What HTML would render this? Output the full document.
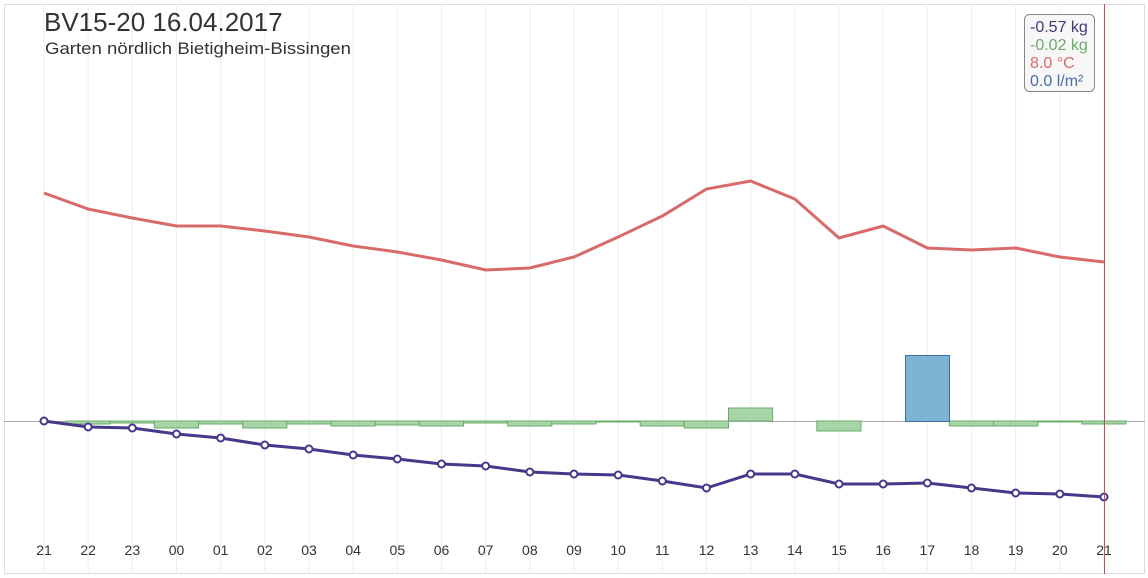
<!DOCTYPE html><html><head><style>body{margin:0;background:#fff}svg{display:block;font-family:"Liberation Sans",sans-serif}</style></head><body>
<svg width="1148" height="578" xmlns="http://www.w3.org/2000/svg">
<rect x="4.5" y="4.5" width="1140" height="569" fill="#fff" stroke="#ddd"/>
<g id="grid" stroke="#eee"></g>
<line x1="4" y1="421.5" x2="1145" y2="421.5" stroke="#aaa"/>
<g id="bars" fill="#a8d5a8" stroke="#6aac6a" stroke-width="1"></g>
<rect x="905.5" y="355.5" width="44" height="66" fill="#7fb3d3" stroke="#3a6fa0"/>
<polyline id="red" fill="none" stroke="#d96a6a" stroke-width="3"/>
<polyline id="pur" fill="none" stroke="#46388a" stroke-width="3"/>
<g id="pts"></g>
<line x1="1104.5" y1="4" x2="1104.5" y2="574" stroke="#c0504d" stroke-width="1"/>
<g id="lbl" font-size="14" fill="#333" text-anchor="middle"></g>
<text x="44" y="31" font-size="26" fill="#333">BV15-20 16.04.2017</text>
<text x="45" y="54" font-size="17" fill="#333" textLength="306" lengthAdjust="spacingAndGlyphs">Garten nördlich Bietigheim-Bissingen</text>
<rect x="1024.5" y="14.5" width="70" height="77" rx="5" fill="#f7f7f7" stroke="#888"/>
<g font-size="16"><text x="1030" y="32" fill="#3f3a7a">-0.57 kg</text><text x="1030" y="50" fill="#6aac6a">-0.02 kg</text><text x="1030" y="68" fill="#d96a6a">8.0 °C</text><text x="1030" y="86" fill="#4a6fa5">0.0 l/m²</text></g>
<script>
var X=i=>44+i*1060/24,ns="http://www.w3.org/2000/svg";
function el(p,t,a){var e=document.createElementNS(ns,t);for(var k in a)e.setAttribute(k,a[k]);document.getElementById(p).appendChild(e);return e}
var L=["21","22","23","00","01","02","03","04","05","06","07","08","09","10","11","12","13","14","15","16","17","18","19","20","21"];
L.forEach((l,i)=>{el("grid","line",{x1:X(i),x2:X(i),y1:4,y2:574});el("lbl","text",{x:X(i),y:555}).textContent=l});
var P=[421,427,428,434,438,445,449,455,459,464,466,472,474,475,481,488,474,474,484,484,483,488,493,494,497];
var R=[193,209,218,226,226,231,237,246,252,260,270,268,257,237,216,189,181,199,238,226,248,250,248,257,262];
document.getElementById("red").setAttribute("points",R.map((y,i)=>X(i)+","+y).join(" "));
document.getElementById("pur").setAttribute("points",P.map((y,i)=>X(i)+","+y).join(" "));
P.forEach((y,i)=>el("pts","circle",{cx:X(i),cy:y,r:3.5,fill:"#fff",stroke:"#46388a","stroke-width":2}));
var G=[424,423,428,424,428,424,426,425,426,423,426,424,422,426,428,408,null,431,null,null,426,426,422,424];
G.forEach((y,i)=>{if(y==null)return;var x0=X(i)+22,x1=X(i+1)+22;el("bars","rect",{x:x0,y:Math.min(y,421),width:x1-x0,height:Math.max(Math.abs(y-421),1)})});
</script>
</svg></body></html>
